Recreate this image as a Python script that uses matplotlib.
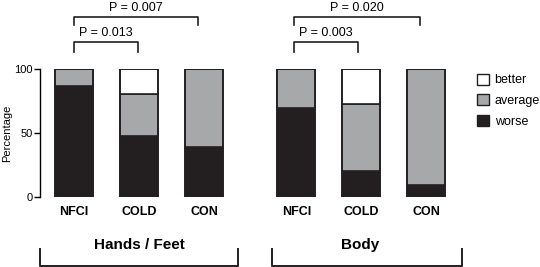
import matplotlib
matplotlib.use("Agg")
import matplotlib.pyplot as plt
from matplotlib.patches import Patch
import numpy as np

plt.rcParams['font.family'] = ['Liberation Sans', 'DejaVu Sans']

categories = ["NFCI", "COLD", "CON", "NFCI", "COLD", "CON"]
groups = ["Hands / Feet", "Body"]
worse = [86.5, 47.5, 39, 69.5, 20, 9.5]
average = [13.5, 33, 61, 30.5, 52.5, 90.5]
better = [0, 19.5, 0, 0, 27.5, 0]
pvals = ["P = 0.013", "P = 0.007", "P = 0.003", "P = 0.020"]
yticks = [0, 50, 100]

W, H = 540, 267
fig = plt.figure(figsize=(W / 100, H / 100), dpi=100)
# axes: y 0->px197, 100->px69 ; x from px40 to px470
ax = fig.add_axes([40 / W, (H - 197) / H, 430 / W, 128 / H])
pos = np.array([0, 1, 2, 3.42, 4.42, 5.42])
ax.set_xlim(-(74 - 40) / 65, (470 - 74) / 65)
ax.set_ylim(0, 100)

c_black = "#231f20"
c_gray = "#a7a8aa"
bw = 0.585
w = np.array(worse)
a = np.array(average)
b = np.array(better)
ax.bar(pos, w, bw, color=c_black, edgecolor=c_black, linewidth=1.2)
ax.bar(pos, a, bw, bottom=w, color=c_gray, edgecolor=c_black, linewidth=1.2)
ax.bar(pos, b, bw, bottom=w + a, color="white", edgecolor=c_black, linewidth=1.2)
# outline of whole bar
ax.bar(pos, w + a + b, bw, color="none", edgecolor=c_black, linewidth=1.2)

for s in ["top", "right", "bottom"]:
    ax.spines[s].set_visible(False)
ax.spines["left"].set_linewidth(1.0)
ax.set_xticks([])
ax.set_yticks(yticks)
ax.tick_params(axis="y", length=4, width=1, labelsize=8, pad=1)
ax.set_ylabel("Percentage", fontsize=8, labelpad=2)

# category labels
for x, c in zip(pos, categories):
    ax.text(x, -12, c, ha="center", va="center", fontsize=9, fontweight="bold", clip_on=False)

# significance brackets
def bracket(x1, x2, y, leg, label, ty):
    ax.plot([x1, x1, x2, x2], [y - leg, y, y, y - leg], color=c_black, lw=1.2, clip_on=False)
    ax.text((x1 + x2) / 2, ty, label, ha="center", va="center", fontsize=9, clip_on=False)

bracket(pos[0], pos[1] - 0.02, 121, 8, pvals[0], 128)
bracket(pos[0], pos[2] - 0.09, 141, 6.5, pvals[1], 147.5)
bracket(pos[3] - 0.03, pos[4] - 0.05, 121, 8, pvals[2], 128)
bracket(pos[3] - 0.03, pos[5] - 0.1, 141, 6.5, pvals[3], 147.5)

# group labels and bottom brackets
for gi, g in enumerate(groups):
    cx = pos[gi * 3 + 1]
    ax.text(cx + (0 if gi == 0 else -0.02), -37.5, g, ha="center", va="center", fontsize=11,
            fontweight="bold", clip_on=False)
    x1 = cx - 1.52 if gi == 0 else cx - 1.37
    x2 = cx + 1.52 if gi == 0 else cx + 1.55
    ax.plot([x1, x1, x2, x2], [-41, -54, -54, -41], color=c_black, lw=1.4, clip_on=False)

# legend
handles = [Patch(facecolor="white", edgecolor=c_black, linewidth=1),
           Patch(facecolor=c_gray, edgecolor=c_black, linewidth=1),
           Patch(facecolor=c_black, edgecolor=c_black, linewidth=1)]
fig.legend(handles, ["better", "average", "worse"], loc="upper left",
           bbox_to_anchor=(474 / W, 1 - 71 / H), frameon=False, fontsize=9,
           handlelength=1.0, handleheight=1.0, handletextpad=0.45, labelspacing=0.62,
           borderaxespad=0, borderpad=0.2)

fig.savefig("out.png", dpi=100)
